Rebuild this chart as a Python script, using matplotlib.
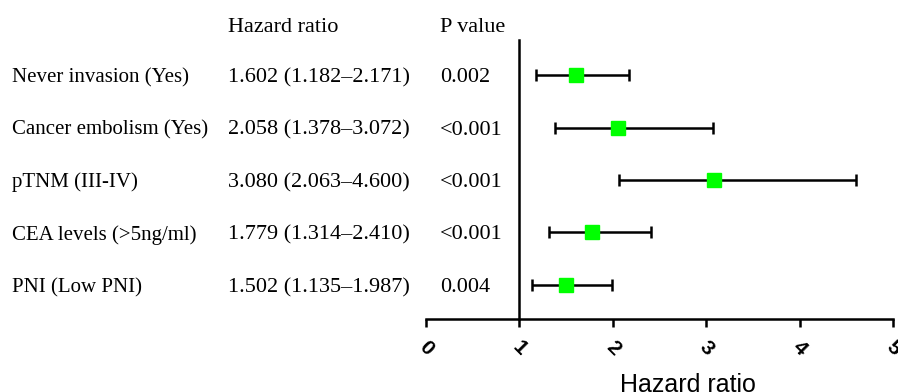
import matplotlib.pyplot as plt
import matplotlib.transforms as mtransforms
import numpy as np

labels = ['Never invasion (Yes)', 'Cancer embolism (Yes)', 'pTNM (III-IV)',
          'CEA levels (>5ng/ml)', 'PNI (Low PNI)']
hr = [1.602, 2.058, 3.080, 1.779, 1.502]
lower = [1.182, 1.378, 2.063, 1.314, 1.135]
upper = [2.171, 3.072, 4.600, 2.410, 1.987]
pvals = ['0.002', '<0.001', '<0.001', '<0.001', '0.004']
xticks = [0, 1, 2, 3, 4, 5]

serif = 'Liberation Serif'
sans = 'Liberation Sans'

fig = plt.figure(figsize=(8.98, 3.92), dpi=100)
ax = fig.add_axes([426/898, 1 - 319/392, (893 - 426)/898, (319 - 40)/392])

ypos = np.arange(len(labels), 0, -1)
hr = np.array(hr)
err = [hr - np.array(lower), np.array(upper) - hr]

ax.errorbar(hr, ypos, xerr=err, fmt='none', ecolor='black', elinewidth=1.8,
            capsize=4, capthick=1.8)
ax.plot(hr, ypos, 's', color='#00ff00', markersize=9.5, zorder=3)

ax.set_xlim(0, 5)
ax.set_ylim(0.35, 5.67)
ax.set_xticks(xticks)
ax.set_xticklabels([str(t) for t in xticks], rotation=-45, ha='center',
                   fontfamily=sans, fontweight='bold', fontsize=15)
ax.set_yticks([])
ax.tick_params(axis='x', direction='out', length=6, width=1.8, pad=7)

for s in ['top', 'right']:
    ax.spines[s].set_visible(False)
ax.spines['left'].set_position(('data', 1))
ax.spines['left'].set_linewidth(1.8)
ax.spines['bottom'].set_linewidth(1.8)

ax.set_xlabel('Hazard ratio', fontfamily=sans, fontsize=18)
ax.xaxis.set_label_coords(0.561, -0.195)

trans = mtransforms.blended_transform_factory(fig.transFigure, ax.transData)
for i, y in enumerate(ypos):
    ax.text(12/898, y, labels[i], transform=trans, fontfamily=serif,
            fontsize=15, va='center_baseline', clip_on=False)
    ax.text(228/898, y, '%.3f (%.3f\u2013%.3f)' % (hr[i], lower[i], upper[i]),
            transform=trans, fontfamily=serif, fontsize=16, va='center_baseline',
            clip_on=False)
    ax.text(440/898, y, pvals[i], transform=trans, fontfamily=serif,
            fontsize=16, va='center_baseline', clip_on=False)

ax.text(228/898, 5.95, 'Hazard ratio', transform=trans, fontfamily=serif,
        fontsize=16, va='center_baseline', clip_on=False)
ax.text(440/898, 5.95, 'P value', transform=trans, fontfamily=serif,
        fontsize=16, va='center_baseline', clip_on=False)

fig.savefig('out.png', dpi=100)
